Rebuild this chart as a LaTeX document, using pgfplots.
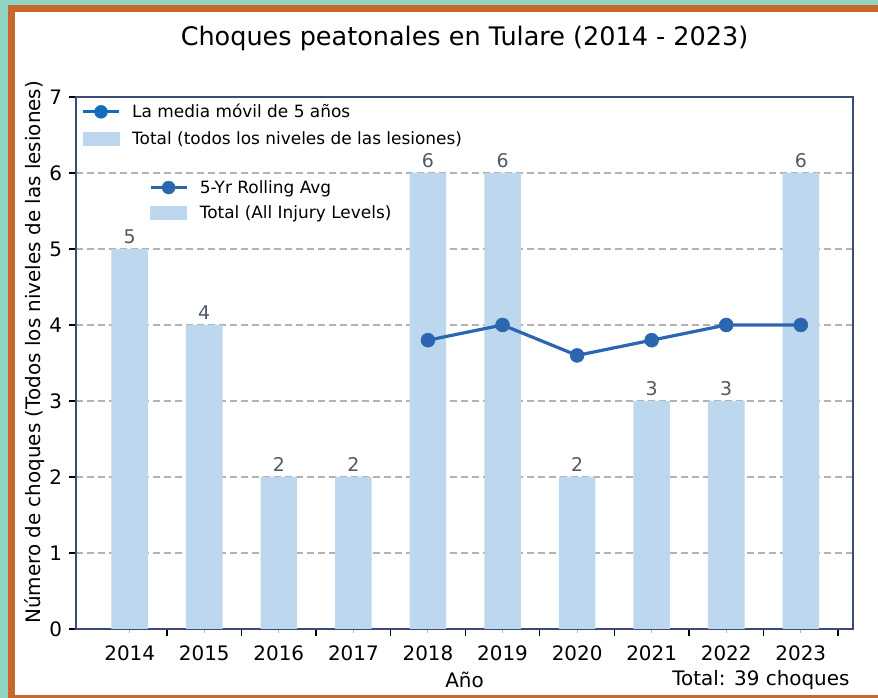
\documentclass[border=0pt]{standalone}
\usepackage{pgfplots}
\pgfplotsset{compat=1.18}
\usepackage{fontspec}
\setmainfont{DejaVu Sans}
\definecolor{bgteal}{RGB}{143,211,192}
\definecolor{frameor}{RGB}{201,104,44}
\definecolor{barblue}{RGB}{189,215,238}
\definecolor{linblue}{RGB}{44,102,176}
\definecolor{legblue}{RGB}{22,108,184}
\definecolor{spine}{RGB}{62,74,118}
\definecolor{gridg}{RGB}{178,178,178}
\definecolor{lblg}{RGB}{80,90,102}
\pgfplotstableread{
x y
0 5
1 4
2 2
3 2
4 6
5 6
6 2
7 3
8 3
9 6
}\totals
\pgfplotstableread{
x y
4 3.8
5 4.0
6 3.6
7 3.8
8 4.0
9 4.0
}\rolling
\begin{document}
\begin{tikzpicture}[x=1bp,y=1bp]
\fill[bgteal] (0,0) rectangle (878,698);
\fill[frameor] (8,0) rectangle (878,693);
\fill[white] (15,3) rectangle (878,686);
\begin{axis}[at={(76bp,69bp)}, anchor=south west, scale only axis,
  width=777bp, height=532bp,
  xmin=-0.72, xmax=9.70, ymin=0, ymax=7,
  axis line style={spine, line width=1.8bp},
  tick align=outside, major tick length=7.5bp, minor tick length=4bp,
  xtick pos=bottom, ytick pos=left,
  xtick={0.5,1.5,...,9.5}, xticklabels={},
  minor xtick={0,...,9},
  extra x ticks={0,...,9},
  extra x tick labels={2014,2015,2016,2017,2018,2019,2020,2021,2022,2023},
  extra x tick style={major tick length=0pt, tick style={draw=none}},
  ytick={0,...,7},
  tick style={black, line width=1.3bp},
  minor tick style={gridg, line width=1bp},
  ymajorgrids=true,
  major grid style={gridg, line width=1.2bp, dash pattern=on 7bp off 4bp},
  /pgf/number format/assume math mode=true,
  ticklabel style={font=\fontsize{20}{24}\selectfont},
  xticklabel style={yshift=-13bp},
  yticklabel style={xshift=-3bp},
  title={Choques peatonales en Tulare (2014 - 2023)},
  title style={at={(axis description cs:0.5,1.0995)}, anchor=center, font=\fontsize{25.6}{30}\selectfont},
  xlabel={Año},
  xlabel style={at={(axis description cs:0.5,-0.0959)}, anchor=center, font=\fontsize{20}{24}\selectfont},
  ylabel={Número de choques (Todos los niveles de las lesiones)},
  ylabel style={at={(axis description cs:-0.0528,0.52)}, anchor=center, font=\fontsize{20}{24}\selectfont},
  clip=false,
]
\addplot[ybar, bar width=0.49, bar shift=0pt, fill=barblue, draw=none,
  nodes near coords, every node near coord/.append style={lblg, yshift=2bp, font=\fontsize{19}{23}\selectfont, /pgf/number format/assume math mode=true}]
  table[x=x,y=y]{\totals};
\addplot[linblue, line width=3.2bp, mark=*, mark size=7bp, mark options={fill=linblue, draw=linblue, line width=0.5bp}]
  table[x=x,y=y]{\rolling};
\node[anchor=east, font=\fontsize{20}{24}\selectfont] at (axis description cs:1,-0.0959) {Total: 39 choques};
\end{axis}
% Legend 1 (Spanish)
\begin{axis}[at={(76bp,69bp)}, anchor=south west, scale only axis,
  width=777bp, height=532bp, hide axis,
  xmin=-0.72, xmax=9.70, ymin=0, ymax=7,
  legend style={at={(rel axis cs:0.003,0.996)}, anchor=north west, draw=none, fill=none,
    font=\fontsize{17}{20}\selectfont, row sep=6bp,
    nodes={inner sep=3bp}},
  legend cell align=left,
]
\addlegendimage{legend image code/.code={\draw[legblue, line width=3bp] (0bp,0bp) -- (36bp,0bp); \fill[legblue] (18bp,0bp) circle (6.5bp); \path (46bp,0bp);}}
\addlegendentry{La media móvil de 5 años}
\addlegendimage{legend image code/.code={\fill[barblue] (0bp,-6.5bp) rectangle (36bp,6.5bp); \path (46bp,0bp);}}
\addlegendentry{Total (todos los niveles de las lesiones)}
\end{axis}
% Legend 2 (English)
\begin{axis}[at={(76bp,69bp)}, anchor=south west, scale only axis,
  width=777bp, height=532bp, hide axis,
  xmin=-0.72, xmax=9.70, ymin=0, ymax=7,
  legend style={at={(rel axis cs:0.090,0.853)}, anchor=north west, draw=none, fill=none,
    font=\fontsize{17}{20}\selectfont, row sep=5bp,
    nodes={inner sep=3bp}},
  legend cell align=left,
]
\addlegendimage{legend image code/.code={\draw[linblue, line width=3bp] (0bp,0bp) -- (36bp,0bp); \fill[linblue] (18bp,0bp) circle (6.5bp); \path (46bp,0bp);}}
\addlegendentry{5-Yr Rolling Avg}
\addlegendimage{legend image code/.code={\fill[barblue] (0bp,-6.5bp) rectangle (36bp,6.5bp); \path (46bp,0bp);}}
\addlegendentry{Total (All Injury Levels)}
\end{axis}
\pgfresetboundingbox
\path (0,0) rectangle (878,698);
\end{tikzpicture}
\end{document}
